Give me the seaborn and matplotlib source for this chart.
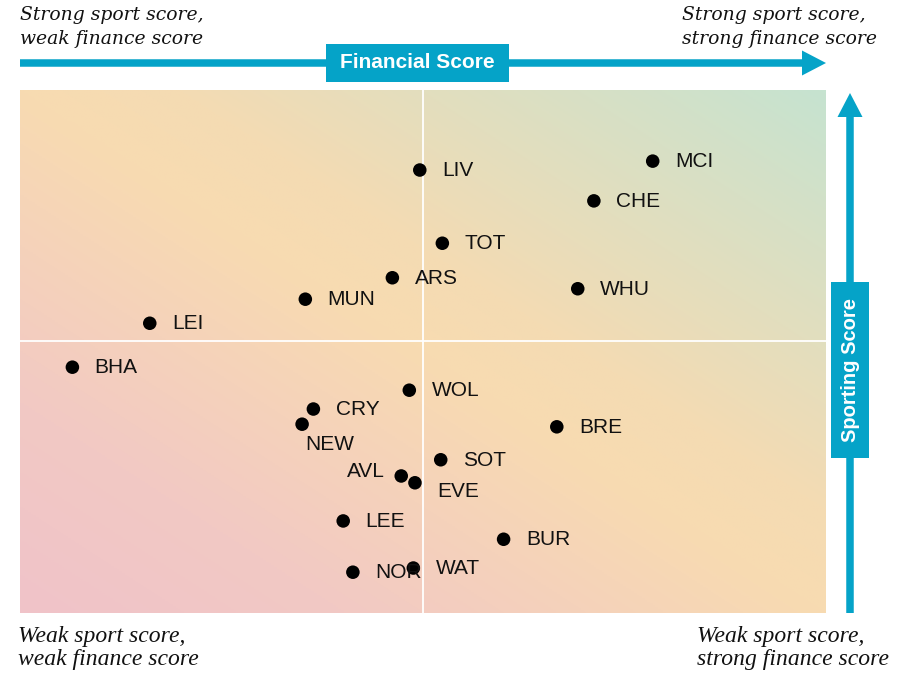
import numpy as np
import pandas as pd
import matplotlib
matplotlib.use('Agg')
import matplotlib.pyplot as plt
from matplotlib.colors import LinearSegmentedColormap
from matplotlib.patches import FancyArrow, Rectangle
import seaborn as sns

# club scores (0-100 scale)
clubs = ['LIV', 'MCI', 'CHE', 'TOT', 'ARS', 'WHU', 'MUN', 'LEI', 'BHA', 'WOL',
         'CRY', 'NEW', 'BRE', 'SOT', 'AVL', 'EVE', 'LEE', 'BUR', 'NOR', 'WAT']
financial = [49.6, 78.5, 71.2, 52.4, 46.2, 69.2, 35.4, 16.1, 6.5, 48.3,
             36.4, 35.0, 66.6, 52.2, 47.3, 49.0, 40.1, 60.0, 41.3, 48.8]
sporting = [84.7, 86.4, 78.8, 70.7, 64.1, 62.0, 60.0, 55.4, 47.0, 42.6,
            39.0, 36.1, 35.6, 29.3, 26.2, 24.9, 17.6, 14.1, 7.8, 8.6]
x_mid, y_mid = 50.0, 52.0

df = pd.DataFrame({'club': clubs, 'financial': financial, 'sporting': sporting})

# label placement, in points from the dot (default: to the right)
label_offsets = {'NEW': (2, -14.5, 'left'), 'AVL': (-12, 3, 'right'),
                 'EVE': (16, -6.5, 'left')}

blue = '#05a3c8'
fig = plt.figure(figsize=(8.97, 6.74), dpi=100)
W, H = 897, 674
ax = fig.add_axes([20 / W, (H - 613) / H, 806 / W, 523 / H])

# gradient background: pink bottom-left -> peach diagonal -> mint top-right
cmap = LinearSegmentedColormap.from_list(
    'bg', [(0, '#f0c3c9'), (0.2, '#f2c9c4'), (0.5, '#f8dbb1'),
           (0.6, '#f4dbb3'), (1, '#c6e3d0')])
u, v = np.meshgrid(np.linspace(0, 1, 300), np.linspace(0, 1, 300))
ax.imshow((u + v) / 2, cmap=cmap, origin='lower', extent=(0, 100, 0, 100),
          aspect='auto', zorder=0, vmin=0, vmax=1)
ax.axvline(x_mid, color='white', lw=1.3, zorder=1)
ax.axhline(y_mid, color='white', lw=1.3, zorder=1)

sns.scatterplot(data=df, x='financial', y='sporting', color='black', s=95,
                edgecolor='none', ax=ax, zorder=3)
for c, fx, sy in zip(clubs, financial, sporting):
    dx, dy, ha = label_offsets.get(c, (16, -0.5, 'left'))
    ax.annotate(c, (fx, sy), xytext=(dx, dy), textcoords='offset points',
                ha=ha, va='center', fontsize=15, family='Liberation Sans',
                color='#111111', zorder=4)
ax.set_xlim(0, 100)
ax.set_ylim(0, 100)
ax.set_axis_off()

# axis arrows in figure pixels (converted to inches)
tr = fig.dpi_scale_trans
fig.add_artist(FancyArrow(20 / 100, (H - 63) / 100, 806 / 100, 0, width=0.075,
                          head_width=0.25, head_length=0.24,
                          length_includes_head=True, color=blue, lw=0, transform=tr))
fig.add_artist(FancyArrow(850 / 100, (H - 613) / 100, 0, (613 - 93) / 100, width=0.075,
                          head_width=0.25, head_length=0.24,
                          length_includes_head=True, color=blue, lw=0, transform=tr))
fig.add_artist(Rectangle((326 / 100, (H - 82) / 100), 183 / 100, 38 / 100,
                         color=blue, lw=0, transform=tr))
fig.add_artist(Rectangle((831 / 100, (H - 458) / 100), 38 / 100, 176 / 100,
                         color=blue, lw=0, transform=tr))
fig.text(417.5 / W, (H - 63) / H, 'Financial Score', color='white', fontsize=15,
         fontweight='bold', family='Liberation Sans', ha='center', va='center')
fig.text(850 / W, (H - 370) / H, 'Sporting Score', color='white', fontsize=14.5,
         fontweight='bold', family='Liberation Sans', ha='center', va='center',
         rotation=90)

# corner captions
corner = dict(fontsize=13.5, style='italic', family='DejaVu Serif', color='#111111',
              linespacing=1.45, va='top', ha='left')
fig.text(20 / W, (H - 6) / H, 'Strong sport score,\nweak finance score', **corner)
fig.text(682 / W, (H - 6) / H, 'Strong sport score,\nstrong finance score', **corner)
corner['family'] = 'Liberation Serif'
corner['fontsize'] = 17
corner['linespacing'] = 1.15
fig.text(18 / W, (H - 626) / H, 'Weak sport score,\nweak finance score', **corner)
fig.text(697 / W, (H - 626) / H, 'Weak sport score,\nstrong finance score', **corner)

fig.savefig('out.png', dpi=100)
